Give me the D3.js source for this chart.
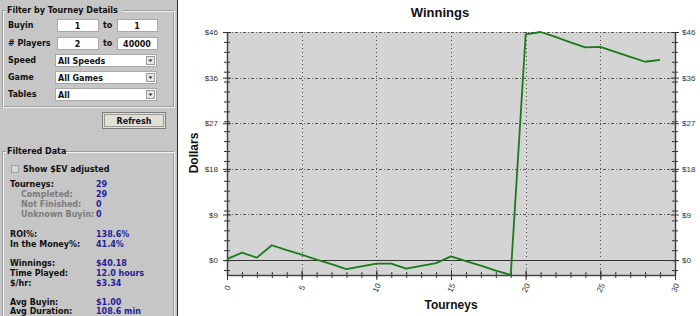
<!DOCTYPE html>
<html>
<head>
<meta charset="utf-8">
<script src="https://cdn.jsdelivr.net/npm/d3@7"></script>
<style>
body { margin: 0; background: #fff; }
svg { display: block; }
</style>
</head>
<body>
<svg id="svg" width="700" height="316"></svg>
<script>
// winnings after each tourney (running total, dollars)
var tourneys = [0,1,2,3,4,5,6,7,8,9,10,11,12,13,14,15,16,17,18,19,20,21,22,23,24,25,26,27,28,29];
var winnings = [0.2,1.5,0.5,3.0,2.0,1.1,0.1,-0.8,-1.8,-1.25,-0.7,-0.7,-1.7,-1.15,-0.6,0.75,-0.2,-1.1,-2.1,-3.0,
                45.5,46.0,45.0,43.9,42.9,43.0,42.0,41.0,40.0,40.4];

var yTicks = [0, 9.2, 18.4, 27.6, 36.8, 46];
var yTickLabels = ["$0", "$9", "$18", "$27", "$36", "$46"];
var xTicks = [0, 5, 10, 15, 20, 25, 30];
var xTickLabels = ["0", "5", "10", "15", "20", "25", "30"];

// left panel text
var filterRows = ["Buyin", "# Players", "Speed", "Game", "Tables"];
var rangeFrom = ["1", "2"];
var rangeTo = ["1", "40000"];
var selectValues = ["All Speeds", "All Games", "All"];

var statLabels = ["Tourneys:", "Completed:", "Not Finished:", "Unknown Buyin:", "ROI%:", "In the Money%:",
                  "Winnings:", "Time Played:", "$/hr:", "Avg Buyin:", "Avg Duration:"];
var statValues = ["29", "29", "0", "0", "138.6%", "41.4%", "$40.18", "12.0 hours", "$3.34", "$1.00", "108.6 min"];
var statSub = [false, true, true, true, false, false, false, false, false, false, false];
var statY = [184, 194, 204, 214, 234, 244, 263.5, 273.5, 283.5, 302, 311.5];

var svg = d3.select("#svg");
var uiFont = "DejaVu Sans, Verdana, sans-serif";

// ---------- left panel ----------
var panel = svg.append("g");
panel.append("rect").attr("x", 0).attr("y", 0).attr("width", 177).attr("height", 316).attr("fill", "#c6c6c6");
panel.append("line").attr("x1", 177.5).attr("x2", 177.5).attr("y1", 0).attr("y2", 316)
  .attr("stroke", "#2a2a2a").attr("stroke-width", 1);

function groupBox(x, y, w, h, title, titleW) {
  panel.append("rect").attr("x", x + 0.5).attr("y", y + 0.5).attr("width", w).attr("height", h)
    .attr("fill", "none").attr("stroke", "#9c9c9c");
  panel.append("rect").attr("x", x + 1.5).attr("y", y + 1.5).attr("width", w).attr("height", h)
    .attr("fill", "none").attr("stroke", "#f2f2f2");
  panel.append("rect").attr("x", x + 4).attr("y", y - 4).attr("width", titleW).attr("height", 9).attr("fill", "#c6c6c6");
  panel.append("text").attr("x", x + 5).attr("y", y + 3)
    .attr("font-family", uiFont).attr("font-size", 8).attr("font-weight", "bold").attr("fill", "#111")
    .text(title);
}

groupBox(2, 10, 171, 96, "Filter by Tourney Details", 117);
groupBox(2, 151, 171, 180, "Filtered Data", 60);

var rowY = [25, 43, 60, 77, 94];
panel.selectAll(".rowlabel").data(filterRows).enter().append("text")
  .attr("x", 8).attr("y", function(d, i) { return rowY[i] + 3; })
  .attr("font-family", uiFont).attr("font-size", 8).attr("font-weight", "bold").attr("fill", "#111")
  .text(function(d) { return d; });

function inputBox(x, y, w, h, txt, anchor) {
  panel.append("rect").attr("x", x + 0.5).attr("y", y + 0.5).attr("width", w).attr("height", h)
    .attr("fill", "#fff").attr("stroke", "#a8a8a8");
  panel.append("text").attr("x", anchor == "middle" ? x + w / 2 : x + 3).attr("y", y + h / 2 + 3.5)
    .attr("text-anchor", anchor)
    .attr("font-family", uiFont).attr("font-size", 8).attr("font-weight", "bold").attr("fill", "#111")
    .text(txt);
}

for (var i = 0; i < 2; i++) {
  inputBox(57, rowY[i] - 6, 41, 12, rangeFrom[i], "middle");
  inputBox(117, rowY[i] - 6, 40, 12, rangeTo[i], "middle");
  panel.append("text").attr("x", 103).attr("y", rowY[i] + 3)
    .attr("font-family", uiFont).attr("font-size", 8).attr("font-weight", "bold").attr("fill", "#111").text("to");
}
for (var j = 0; j < 3; j++) {
  var sy = rowY[j + 2] - 6;
  inputBox(55, sy, 101, 12, selectValues[j], "start");
  panel.append("rect").attr("x", 146.5).attr("y", sy + 2.5).attr("width", 8).attr("height", 8)
    .attr("fill", "#e6e6e6").attr("stroke", "#9a9a9a");
  panel.append("path").attr("d", "M148.5," + (sy + 5.5) + "h4l-2,2.5z").attr("fill", "#333");
}

// refresh button
panel.append("rect").attr("x", 102.5).attr("y", 112.5).attr("width", 63).attr("height", 16)
  .attr("fill", "#e2e0d6").attr("stroke", "#7c7c7c");
panel.append("rect").attr("x", 104.5).attr("y", 114.5).attr("width", 59).attr("height", 12)
  .attr("fill", "none").attr("stroke", "#555").attr("stroke-dasharray", "1,1");
panel.append("text").attr("x", 134).attr("y", 123.5).attr("text-anchor", "middle")
  .attr("font-family", uiFont).attr("font-size", 8).attr("font-weight", "bold").attr("fill", "#111").text("Refresh");

// checkbox
panel.append("rect").attr("x", 11.5).attr("y", 165.5).attr("width", 7).attr("height", 7)
  .attr("fill", "#d8d8d8").attr("stroke", "#a0a0a0");
panel.append("text").attr("x", 23).attr("y", 172)
  .attr("font-family", uiFont).attr("font-size", 8).attr("font-weight", "bold").attr("fill", "#111").text("Show $EV adjusted");

panel.selectAll(".statlabel").data(statLabels).enter().append("text")
  .attr("x", function(d, i) { return statSub[i] ? 21 : 10; })
  .attr("y", function(d, i) { return statY[i] + 2.5; })
  .attr("font-family", uiFont).attr("font-size", 8).attr("font-weight", "bold")
  .attr("fill", function(d, i) { return statSub[i] ? "#7c7c7c" : "#111"; })
  .text(function(d) { return d; });
panel.selectAll(".statvalue").data(statValues).enter().append("text")
  .attr("x", 96)
  .attr("y", function(d, i) { return statY[i] + 2.5; })
  .attr("font-family", uiFont).attr("font-size", 8).attr("font-weight", "bold").attr("fill", "#23239a")
  .text(function(d) { return d; });

// ---------- chart ----------
var x = d3.scaleLinear().domain([0, 30]).range([227, 675]);
var y = d3.scaleLinear().domain([-3, 46]).range([275, 32]);
var chartFont = "Liberation Sans, Arial, sans-serif";

svg.append("rect").attr("x", x(0)).attr("y", y(46)).attr("width", x(30) - x(0)).attr("height", y(-3) - y(46))
  .attr("fill", "#d4d4d4");

// grid
svg.append("g").selectAll("line").data(yTicks.filter(function(d) { return d != 0; })).enter().append("line")
  .attr("x1", x(0)).attr("x2", x(30))
  .attr("y1", function(d) { return Math.round(y(d)) + 0.5; }).attr("y2", function(d) { return Math.round(y(d)) + 0.5; })
  .attr("stroke", "#555").attr("stroke-dasharray", "3,2,1,2");
svg.append("g").selectAll("line").data(xTicks.slice(1, -1)).enter().append("line")
  .attr("x1", function(d) { return Math.round(x(d)) + 0.5; }).attr("x2", function(d) { return Math.round(x(d)) + 0.5; })
  .attr("y1", y(46)).attr("y2", y(-3))
  .attr("stroke", "#444").attr("stroke-dasharray", "1,3");
svg.append("line").attr("x1", x(0)).attr("x2", x(30))
  .attr("y1", Math.round(y(0)) + 0.5).attr("y2", Math.round(y(0)) + 0.5)
  .attr("stroke", "#333").attr("stroke-width", 1);

// axes
function styleAxis(g) {
  g.select(".domain").attr("stroke", "#444").attr("stroke-width", 1.5);
  g.selectAll(".tick line").attr("stroke", "#333");
}

var minorY = d3.range(-2, 47, 2);
var minorX = d3.range(0, 31, 1);

var leftMinor = svg.append("g").attr("transform", "translate(" + x(0) + ",0)")
  .call(d3.axisLeft(y).tickValues(minorY).tickFormat("").tickSizeOuter(0));
leftMinor.select(".domain").remove();
leftMinor.selectAll(".tick line").attr("x1", -3).attr("x2", 3).attr("stroke", "#333");

var rightMinor = svg.append("g").attr("transform", "translate(" + x(30) + ",0)")
  .call(d3.axisRight(y).tickValues(minorY).tickFormat("").tickSizeOuter(0));
rightMinor.select(".domain").remove();
rightMinor.selectAll(".tick line").attr("x1", -3).attr("x2", 3).attr("stroke", "#333");

var bottomMinor = svg.append("g").attr("transform", "translate(0," + y(-3) + ")")
  .call(d3.axisBottom(x).tickValues(minorX).tickFormat("").tickSizeOuter(0));
bottomMinor.select(".domain").remove();
bottomMinor.selectAll(".tick line").attr("y1", -3).attr("y2", 3).attr("stroke", "#333");

var leftAxis = svg.append("g").attr("transform", "translate(" + x(0) + ",0)")
  .call(d3.axisLeft(y).tickValues(yTicks).tickFormat(function(d, i) { return yTickLabels[i]; }).tickSizeOuter(0));
leftAxis.selectAll(".tick line").attr("x1", -4).attr("x2", 4);
leftAxis.selectAll(".tick text").attr("x", -9);
styleAxis(leftAxis);

var rightAxis = svg.append("g").attr("transform", "translate(" + x(30) + ",0)")
  .call(d3.axisRight(y).tickValues(yTicks).tickFormat(function(d, i) { return yTickLabels[i]; }).tickSizeOuter(0));
rightAxis.selectAll(".tick line").attr("x1", -4).attr("x2", 4);
rightAxis.selectAll(".tick text").attr("x", 7);
styleAxis(rightAxis);

var bottomAxis = svg.append("g").attr("transform", "translate(0," + y(-3) + ")")
  .call(d3.axisBottom(x).tickValues(xTicks).tickFormat(function(d, i) { return xTickLabels[i]; }).tickSizeOuter(0));
bottomAxis.selectAll(".tick line").attr("y1", -5).attr("y2", 5);
bottomAxis.selectAll(".tick text").attr("y", 0).attr("dy", "0.32em")
  .attr("text-anchor", "middle").attr("transform", "translate(0,13) rotate(-65)");
styleAxis(bottomAxis);

svg.selectAll(".tick text").attr("font-family", chartFont).attr("font-size", 8).attr("fill", "#333");

// winnings line
var line = d3.line()
  .x(function(d, i) { return x(tourneys[i]); })
  .y(function(d) { return y(d); });
svg.append("path").datum(winnings).attr("d", line)
  .attr("fill", "none").attr("stroke", "#1b7a1b").attr("stroke-width", 1.8).attr("stroke-linejoin", "round");

// titles
svg.append("text").attr("x", 440).attr("y", 17).attr("text-anchor", "middle")
  .attr("font-family", chartFont).attr("font-size", 13).attr("font-weight", "bold").attr("fill", "#111")
  .text("Winnings");
svg.append("text").attr("x", 451).attr("y", 309).attr("text-anchor", "middle")
  .attr("font-family", chartFont).attr("font-size", 12).attr("font-weight", "bold").attr("fill", "#111")
  .text("Tourneys");
svg.append("text").attr("transform", "translate(198,153) rotate(-90)").attr("text-anchor", "middle")
  .attr("font-family", chartFont).attr("font-size", 12).attr("font-weight", "bold").attr("fill", "#111")
  .text("Dollars");
</script>
</body>
</html>
